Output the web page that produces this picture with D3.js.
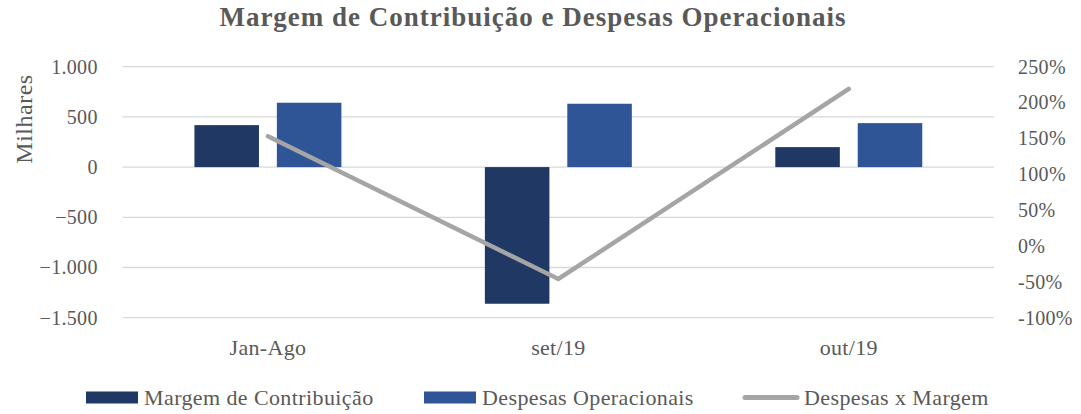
<!DOCTYPE html>
<html>
<head>
<meta charset="utf-8">
<script src="https://cdn.jsdelivr.net/npm/d3@7"></script>
<style>
	body { margin: 0; background: #fff; }
	#chart { width: 1081px; height: 414px; }
	text { font-family: "Liberation Serif", "DejaVu Serif", serif; fill: #595959; }
</style>
</head>
<body>
<div id="chart"></div>
<script>
"use strict"

// valores (milhares / %)
const categories = ["Jan-Ago", "set/19", "out/19"];
const seriesNames = ["Margem de Contribuição", "Despesas Operacionais"];
const margem = [418, -1361, 199];
const despesas = [641, 631, 438];
const despesasXMargem = [153, -46, 219];
const lineName = "Despesas x Margem";
const leftTicks = [1000, 500, 0, -500, -1000, -1500];
const rightTicks = [250, 200, 150, 100, 50, 0, -50, -100];

const colors = { margem: "#203864", despesas: "#2F5597", line: "#A5A5A5", grid: "#D9D9D9" };

let totalWidth = 1081, totalHeight = 414;
let margin = { left: 122.7, right: 87, top: 66.7, bottom: 96.3 };
let width = totalWidth - margin.left - margin.right;
let height = totalHeight - margin.top - margin.bottom;

let svg = d3.select("#chart").append("svg")
	.attr("width", totalWidth)
	.attr("height", totalHeight);

let g = svg.append("g")
	.attr("transform", `translate(${margin.left},${margin.top})`);

let xScaleGroup = d3.scaleBand().domain(categories).range([0, width])
	.paddingInner(0.494).paddingOuter(0.247);
let xScaleBar = d3.scaleBand().domain(seriesNames).range([0, xScaleGroup.bandwidth()])
	.paddingInner(0.217).paddingOuter(0);
let yScale = d3.scaleLinear().domain([-1500, 1000]).range([height, 0]);
let yScaleRight = d3.scaleLinear().domain([-100, 250]).range([height, 0]);

// gridlines
g.append("g").selectAll("line")
	.data(leftTicks)
	.enter().append("line")
		.attr("x1", 0).attr("x2", width)
		.attr("y1", d => yScale(d)).attr("y2", d => yScale(d))
		.attr("stroke", colors.grid)
		.attr("stroke-width", 1.3);

// barras
let rows = categories.map((c, i) => ({ cat: c, values: [
	{ key: seriesNames[0], value: margem[i], color: colors.margem },
	{ key: seriesNames[1], value: despesas[i], color: colors.despesas }
]}));

g.append("g").selectAll("g")
	.data(rows)
	.enter().append("g")
		.attr("transform", d => `translate(${xScaleGroup(d.cat)},0)`)
	.selectAll("rect")
	.data(d => d.values)
	.enter().append("rect")
		.attr("x", d => xScaleBar(d.key))
		.attr("y", d => yScale(Math.max(0, d.value)))
		.attr("width", xScaleBar.bandwidth())
		.attr("height", d => Math.abs(yScale(d.value) - yScale(0)))
		.attr("fill", d => d.color);

// linha
let line = d3.line()
	.x((d, i) => xScaleGroup(categories[i]) + xScaleGroup.bandwidth() / 2)
	.y(d => yScaleRight(d));

g.append("path")
	.datum(despesasXMargem)
	.attr("d", line)
	.attr("fill", "none")
	.attr("stroke", colors.line)
	.attr("stroke-width", 4.5)
	.attr("stroke-linecap", "round")
	.attr("stroke-linejoin", "miter");

// eixos
let fmtLeft = d => d3.format(",")(d).replace(/,/g, ".");
let yAxis = g.append("g")
	.attr("transform", "translate(-22,0)")
	.call(d3.axisLeft(yScale).tickValues(leftTicks).tickFormat(fmtLeft).tickSize(0));
yAxis.select(".domain").remove();

let yAxisR = g.append("g")
	.attr("transform", `translate(${width + 21},0)`)
	.call(d3.axisRight(yScaleRight).tickValues(rightTicks).tickFormat(d => d + "%").tickSize(0));
yAxisR.select(".domain").remove();

let xAxis = g.append("g")
	.attr("transform", `translate(0,${height})`)
	.call(d3.axisBottom(xScaleGroup).tickSize(0));
xAxis.select(".domain").remove();

svg.selectAll(".tick text")
	.attr("font-family", null)
	.attr("font-size", 20)
	.attr("letter-spacing", 0.3)
	.attr("fill", "#595959");
xAxis.selectAll(".tick text")
	.attr("font-size", 22)
	.attr("y", 37)
	.attr("dy", 0);

// título eixo
svg.append("text")
	.attr("transform", `translate(32,119) rotate(-90)`)
	.attr("text-anchor", "middle")
	.attr("font-size", 24)
	.attr("letter-spacing", 0.5)
	.text("Milhares");

// título
svg.append("text")
	.attr("x", 533)
	.attr("y", 26)
	.attr("text-anchor", "middle")
	.attr("font-size", 27)
	.attr("letter-spacing", 1.0)
	.attr("font-weight", "bold")
	.text("Margem de Contribuição e Despesas Operacionais");

// legenda
let legend = [
	{ name: seriesNames[0], type: "rect", color: colors.margem, x: 86 },
	{ name: seriesNames[1], type: "rect", color: colors.despesas, x: 424 },
	{ name: lineName, type: "line", color: colors.line, x: 743 }
];
let lg = svg.append("g").selectAll("g")
	.data(legend)
	.enter().append("g")
		.attr("transform", d => `translate(${d.x},397.5)`);

lg.filter(d => d.type === "rect").append("rect")
	.attr("x", 0).attr("y", -6)
	.attr("width", 52).attr("height", 12)
	.attr("fill", d => d.color);

lg.filter(d => d.type === "line").append("line")
	.attr("x1", 2).attr("x2", 54)
	.attr("y1", 0).attr("y2", 0)
	.attr("stroke", d => d.color)
	.attr("stroke-width", 5)
	.attr("stroke-linecap", "round");

lg.append("text")
	.attr("x", d => d.type === "line" ? 61 : 58)
	.attr("y", 0)
	.attr("dy", "0.35em")
	.attr("font-size", 22)
	.attr("letter-spacing", 0.4)
	.text(d => d.name);
</script>
</body>
</html>
